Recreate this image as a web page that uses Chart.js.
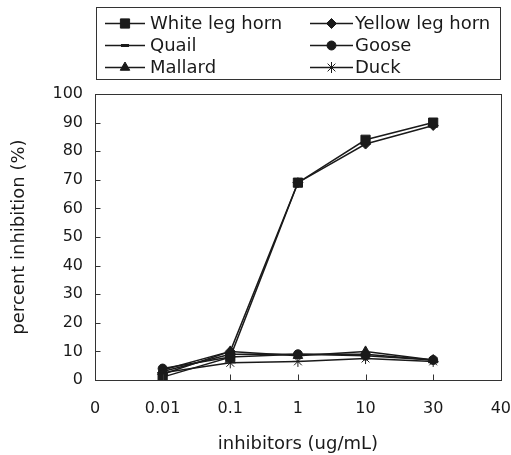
<!DOCTYPE html>
<html>
<head>
<meta charset="utf-8">
<script src="https://cdn.jsdelivr.net/npm/chart.js@4"></script>
<style>
	body { margin: 0; background: #fff; }
	#wrap { width: 511px; height: 455px; }
</style>
</head>
<body>
<div id="wrap"><canvas id="line-chart-inhibition"></canvas></div>
<script>
"use strict";

// x categories (evenly spaced, 0 and 40 are only axis ends)
const doses = ['0', '0.01', '0.1', '1', '10', '30', '40'];

// percent inhibition at 0.01, 0.1, 1, 10, 30 ug/mL
const whiteLegHorn = [1, 8, 69, 84, 90];
const yellowLegHorn = [2, 10, 69, 82.5, 89];
const quail = [3, 9, 9, 9, 7];
const goose = [4, 8, 9, 8.5, 7];
const mallard = [3.5, 10, 8.5, 10, 7];
const duck = [2.5, 6, 6.5, 7.5, 6.5];

const yTicks = [0, 10, 20, 30, 40, 50, 60, 70, 80, 90, 100];

const fontName = "'DejaVu Sans', sans-serif";
const ink = '#1a1a1a';

function series(label, values, pointStyle, radius) {
	return {
		label: label,
		data: [null, ...values, null],
		borderColor: ink,
		backgroundColor: ink,
		borderWidth: 1.5,
		pointStyle: pointStyle,
		pointRadius: radius,
		pointHoverRadius: radius,
		pointBorderWidth: pointStyle === 'line' ? 3 : 1,
		pointBorderColor: ink,
		pointBackgroundColor: ink,
		tension: 0
	};
}

const datasets = [
	series('White leg horn', whiteLegHorn, 'rect', 6.5),
	series('Yellow leg horn', yellowLegHorn, 'rectRot', 5),
	series('Quail', quail, 'line', 4),
	series('Goose', goose, 'circle', 4.5),
	series('Mallard', mallard, 'triangle', 5.5),
	series('Duck', duck, 'star', 5.5)
];

// frame, inside tick marks and the boxed two-column legend
const frameAndLegend = {
	id: 'frameAndLegend',
	afterDraw(chart) {
		const ctx = chart.ctx;
		const area = chart.chartArea;
		const x = chart.scales.x;
		const y = chart.scales.y;
		const left = Math.round(area.left) + 0.5;
		const right = Math.round(area.right) + 0.5;
		const top = Math.round(area.top) + 0.5;
		const bottom = Math.round(area.bottom) + 0.5;

		ctx.save();
		ctx.strokeStyle = '#333';
		ctx.lineWidth = 1;
		ctx.strokeRect(left, top, right - left, bottom - top);

		ctx.beginPath();
		yTicks.slice(1, -1).forEach(v => {
			const py = Math.round(y.getPixelForValue(v)) + 0.5;
			ctx.moveTo(left, py);
			ctx.lineTo(left + 5, py);
		});
		for (let i = 1; i < doses.length - 1; i++) {
			const px = Math.round(x.getPixelForValue(i)) + 0.5;
			ctx.moveTo(px, bottom);
			ctx.lineTo(px, bottom - 6);
		}
		ctx.stroke();

		// legend box
		ctx.strokeStyle = '#333';
		ctx.strokeRect(96.5, 7.5, 404, 72);
		const cols = [{line: 105, len: 40, text: 150}, {line: 310, len: 43, text: 355}];
		const rows = [23, 45, 67];
		ctx.font = "18px " + fontName;
		ctx.textBaseline = 'middle';
		chart.data.datasets.forEach((ds, i) => {
			const c = cols[i % 2];
			const ry = rows[Math.floor(i / 2)];
			ctx.strokeStyle = ink;
			ctx.lineWidth = 1.5;
			ctx.beginPath();
			ctx.moveTo(c.line, ry + 0.5);
			ctx.lineTo(c.line + c.len, ry + 0.5);
			ctx.stroke();
			ctx.fillStyle = ink;
			ctx.lineWidth = ds.pointBorderWidth;
			Chart.helpers.drawPoint(ctx, {
				pointStyle: ds.pointStyle,
				radius: ds.pointRadius,
				borderWidth: ds.pointBorderWidth,
				rotation: 0
			}, c.line + c.len / 2, ry + 0.5);
			ctx.fillStyle = ink;
			ctx.fillText(ds.label, c.text, ry + 1);
		});
		ctx.restore();
	}
};

const ctx = document.querySelector('#line-chart-inhibition').getContext('2d');
new Chart(ctx, {
	type: 'line',
	data: {
		labels: doses,
		datasets: datasets
	},
	options: {
		responsive: true,
		maintainAspectRatio: false,
		animation: false,
		layout: {
			padding: {top: 94, right: 4, bottom: 0, left: 9}
		},
		plugins: {
			legend: {display: false},
			tooltip: {enabled: false}
		},
		scales: {
			x: {
				type: 'category',
				offset: false,
				border: {display: false},
				grid: {
					display: true,
					drawOnChartArea: false,
					drawTicks: true,
					tickLength: 19,
					tickColor: 'rgba(0,0,0,0)'
				},
				afterFit: scale => {
					scale.height = 75;
				},
				ticks: {
					color: ink,
					padding: 0,
					maxRotation: 0,
					autoSkip: false,
					font: {family: fontName, size: 16}
				},
				title: {
					display: true,
					text: 'inhibitors (ug/mL)',
					color: ink,
					padding: {top: 16, bottom: 0},
					font: {family: fontName, size: 18}
				}
			},
			y: {
				min: 0,
				max: 100,
				border: {display: false},
				grid: {display: true, drawOnChartArea: false, drawTicks: false},
				afterBuildTicks: scale => {
					scale.ticks = yTicks.map(v => ({value: v}));
				},
				afterFit: scale => {
					scale.width = 86;
				},
				ticks: {
					color: ink,
					padding: 12,
					font: {family: fontName, size: 16}
				},
				title: {
					display: true,
					text: 'percent inhibition (%)',
					color: ink,
					padding: {top: 0, bottom: 22},
					font: {family: fontName, size: 18}
				}
			}
		}
	},
	plugins: [frameAndLegend]
});
</script>
</body>
</html>
